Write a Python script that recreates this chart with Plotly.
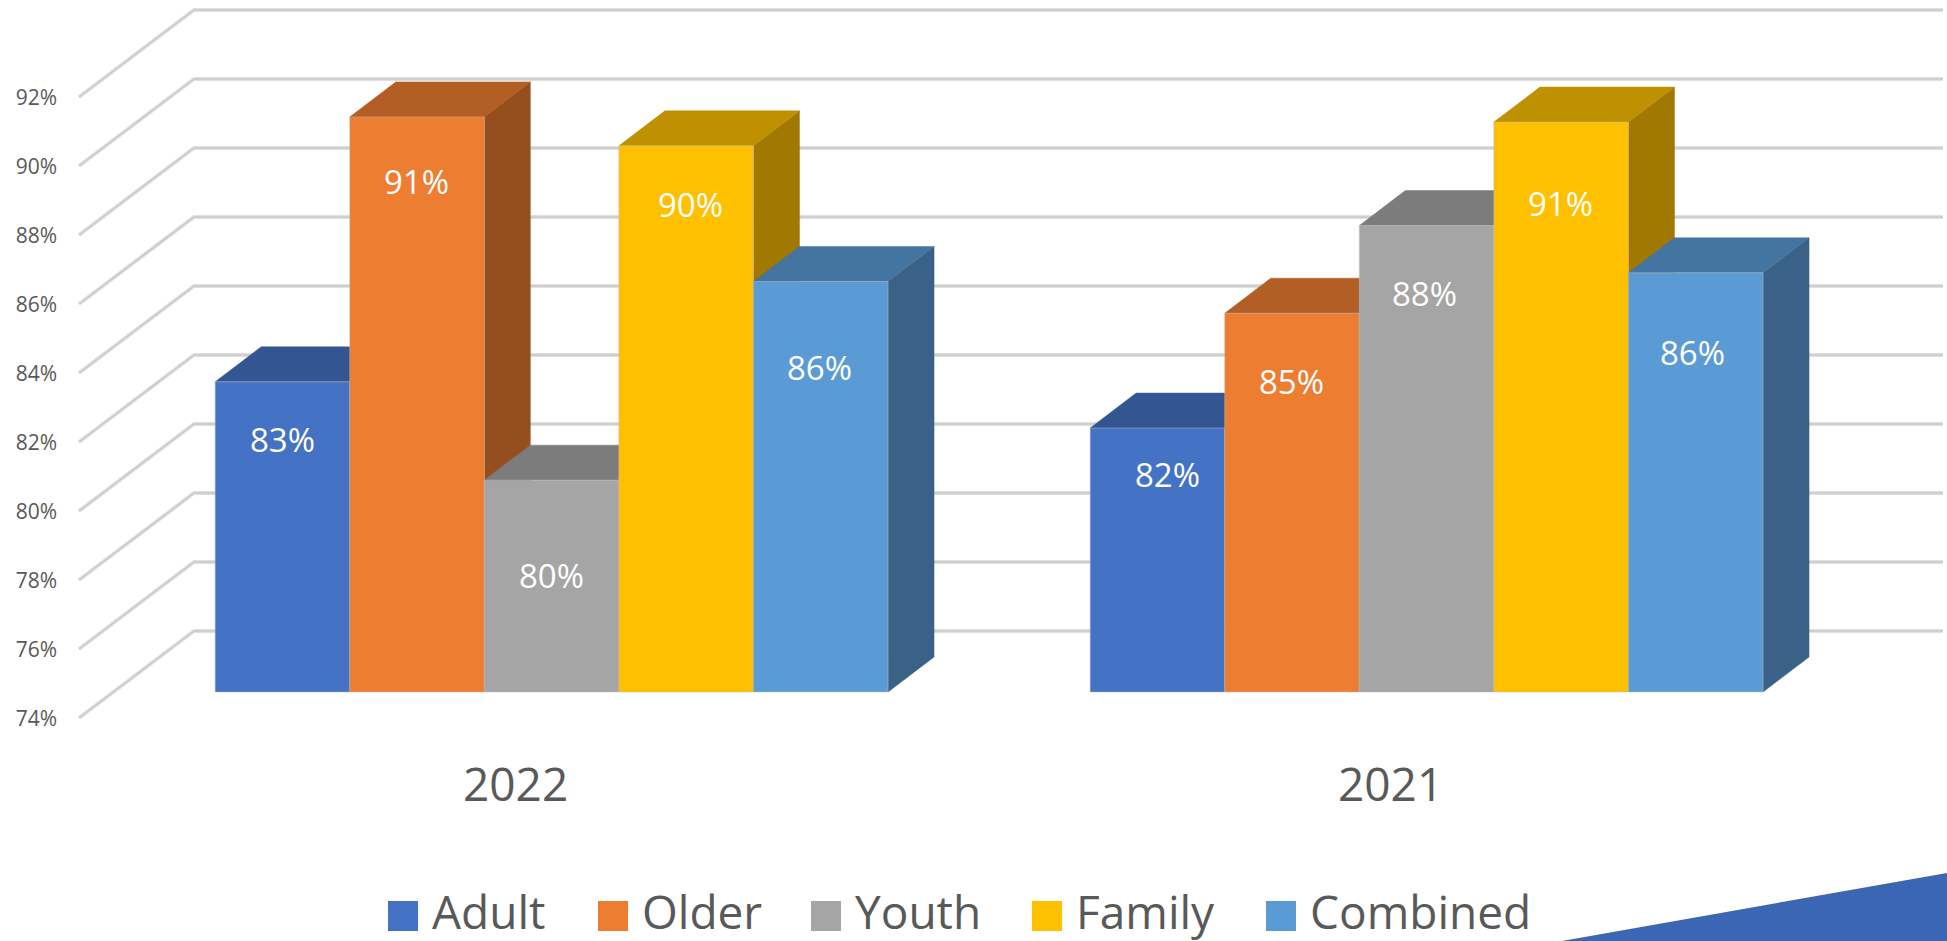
import plotly.graph_objects as go

# ---- data ----
categories = ["2022", "2021"]
series_names = ["Adult", "Older", "Youth", "Family", "Combined"]
adult = [82.99, 81.65]
older = [90.67, 84.98]
youth = [80.14, 87.52]
family = [89.83, 90.52]
combined = [85.90, 86.15]
series_values = [adult, older, youth, family, combined]
y_ticks = [74, 76, 78, 80, 82, 84, 86, 88, 90, 92]

# ---- style ----
colors = ["#4472C4", "#ED7D31", "#A5A5A5", "#FFC000", "#5B9BD5"]
TOP_SHADE, SIDE_SHADE = 0.75, 0.63
TEXT = "#595959"
FONT = "Open Sans"
W, H = 1947, 941
ML, MB = 62, 196
PX_X = 875.0      # pixels per category step
PX_Y = 34.5       # pixels per percentage point
GROUP_PX = 551.6  # pixel centre of the first group
BASE_PX = 692.0   # pixel of the axis minimum on the bar plane
AXIS_MIN = 74
BARGAP = 0.231
BAR_W = (1 - BARGAP) / len(series_names)
DX, DY = 46 / PX_X, 35 / PX_Y          # bar depth
WALL_X0 = (79 - GROUP_PX) / PX_X       # front end of wall lines
WALL_X1 = (194 - GROUP_PX) / PX_X      # back corner
WALL_X2 = (1943 - GROUP_PX) / PX_X     # right end
WALL_FRONT = -26 / PX_Y                # wall front relative to bar plane
WALL_BACK = 61 / PX_Y                  # wall back relative to bar plane
# data-label placement relative to the bar top centre, in pixels
label_drop = [[58, 46], [65, 68], [95, 68], [59, 81], [86, 80]]
label_shift = [[0, 10], [-1, -1], [0, -2], [4, -1], [-1, -3]]
cat_label_shift = -36 / PX_X


def shade(hex_color, f):
    r, g, b = (int(hex_color[i:i + 2], 16) for i in (1, 3, 5))
    return f"rgb({round(r * f)},{round(g * f)},{round(b * f)})"


def px_x(p):
    return (p - ML) / (W - ML)


def px_y(p):
    return 1 - p / (H - MB)


fig = go.Figure()

# wall gridlines: a soft band with a slightly darker core
for t in y_ticks:
    for width, col in ((4, "#E0E0E0"), (1.5, "#C9C9C9")):
        fig.add_trace(go.Scatter(
            x=[WALL_X0, WALL_X1, WALL_X2],
            y=[t + WALL_FRONT, t + WALL_BACK, t + WALL_BACK],
            mode="lines", line=dict(color=col, width=width),
            hoverinfo="skip", showlegend=False, zorder=-1))

# bars: side and top faces first, then the front, series by series
annotations = []
for i, (name, vals, col) in enumerate(zip(series_names, series_values, colors)):
    for g, v in enumerate(vals):
        x0 = g + (i - len(series_names) / 2) * BAR_W
        x1 = x0 + BAR_W
        fig.add_trace(go.Scatter(
            x=[x1, x1 + DX, x1 + DX, x1, x1],
            y=[AXIS_MIN, AXIS_MIN + DY, v + DY, v, AXIS_MIN],
            mode="lines", fill="toself", fillcolor=shade(col, SIDE_SHADE),
            line=dict(color=shade(col, SIDE_SHADE), width=0.5),
            hoverinfo="skip", showlegend=False, zorder=2 * i))
        fig.add_trace(go.Scatter(
            x=[x0, x1, x1 + DX, x0 + DX, x0],
            y=[v, v, v + DY, v + DY, v],
            mode="lines", fill="toself", fillcolor=shade(col, TOP_SHADE),
            line=dict(color=shade(col, TOP_SHADE), width=0.5),
            hoverinfo="skip", showlegend=False, zorder=2 * i))
        annotations.append(dict(
            x=(x0 + x1) / 2, y=v, xref="x", yref="y",
            xshift=label_shift[i][g], yshift=-label_drop[i][g],
            text=f"{round(v)}%", showarrow=False, yanchor="middle",
            font=dict(family=FONT, size=33, color="white")))
    fig.add_trace(go.Bar(
        x=[0, 1], y=[v - AXIS_MIN for v in vals], base=AXIS_MIN, name=name,
        marker=dict(color=col, line=dict(color="rgba(190,190,190,0.5)", width=1)),
        showlegend=False, zorder=2 * i + 1))

# legend drawn to the reference's large swatches
legend_swatch_px = [388, 598, 811, 1032, 1266]
shapes = []
for name, col, sx in zip(series_names, colors, legend_swatch_px):
    shapes.append(dict(type="rect", xref="paper", yref="paper",
                       x0=px_x(sx), x1=px_x(sx + 30), y0=px_y(931), y1=px_y(901),
                       fillcolor=col, line=dict(width=0)))
    annotations.append(dict(x=px_x(sx + 42), y=px_y(911), xref="paper", yref="paper",
                            text=name, showarrow=False, xanchor="left", yanchor="middle",
                            height=58, valign="middle",
                            font=dict(family=FONT, size=46, color=TEXT)))

# corner decoration
shapes.append(dict(type="path", xref="paper", yref="paper",
                   path=f"M {px_x(1562)} {px_y(941)} L {px_x(1947)} {px_y(873)} L {px_x(1947)} {px_y(941)} Z",
                   fillcolor="#3B66B4", line=dict(width=0)))

y_lo = AXIS_MIN - (H - MB - BASE_PX) / PX_Y
y_hi = AXIS_MIN + BASE_PX / PX_Y
fig.update_layout(
    width=W, height=H, margin=dict(l=ML, r=0, t=0, b=MB, pad=0, autoexpand=False),
    paper_bgcolor="white", plot_bgcolor="white",
    barmode="group", bargap=BARGAP, bargroupgap=0,
    showlegend=False, shapes=shapes, annotations=annotations,
    xaxis=dict(range=[(ML - GROUP_PX) / PX_X, (W - GROUP_PX) / PX_X],
               tickmode="array", tickvals=[g + cat_label_shift for g in range(len(categories))],
               ticktext=categories, showgrid=False, zeroline=False, showline=False, ticks="",
               ticklabelstandoff=9,
               tickfont=dict(family=FONT, size=46, color=TEXT)),
    yaxis=dict(range=[y_lo, y_hi], tickmode="array",
               tickvals=[t + WALL_FRONT - 1 / PX_Y for t in y_ticks],
               ticktext=[f"{t}%" for t in y_ticks],
               showgrid=False, zeroline=False, showline=False, ticks="",
               ticklabelstandoff=4,
               tickfont=dict(family=FONT, size=21, color=TEXT)),
)

fig.write_html("out.html", config=dict(displayModeBar=False),
               post_script="document.body.style.margin='0';document.body.style.overflow='hidden';")
